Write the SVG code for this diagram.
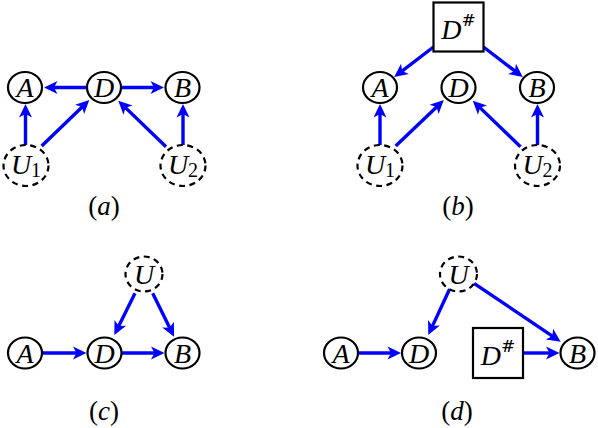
<svg xmlns="http://www.w3.org/2000/svg" width="598" height="428" viewBox="0 0 598 428">
<style>
.n{fill:#fff;stroke:#000;stroke-width:2.2}
.u{fill:#fff;stroke:#000;stroke-width:2.2;stroke-dasharray:6 4.5}
.e{fill:none;stroke:#00f;stroke-width:3.4}
.t{font-family:"Liberation Serif",serif;font-size:28px;font-style:italic;text-anchor:middle;dominant-baseline:central}
.s{font-style:normal;font-size:20px}
.h{font-family:"DejaVu Serif",serif;font-style:normal;font-size:17px}
.c{font-family:"Liberation Serif",serif;font-size:27px;text-anchor:middle;dominant-baseline:central}
.c tspan{font-style:italic}
</style>
<defs>
<marker id="ah" markerWidth="16" markerHeight="16" refX="7" refY="0" orient="auto" markerUnits="userSpaceOnUse" overflow="visible">
<path d="M13,0 L-0.5,-6.5 L3,0 L-0.5,6.5 Z" fill="#00f"/>
</marker>
</defs>
<g id="edges">
<path class="e" marker-end="url(#ah)" d="M87,87.5 L50,87.5"/>
<path class="e" marker-end="url(#ah)" d="M121,87.5 L158,87.5"/>
<path class="e" marker-end="url(#ah)" d="M25.5,145 L25.5,110"/>
<path class="e" marker-end="url(#ah)" d="M183,145 L183,110"/>
<path class="e" marker-end="url(#ah)" d="M41.7,146 L85,104.2"/>
<path class="e" marker-end="url(#ah)" d="M166,146.7 L122.6,104.9"/>
<path class="e" marker-end="url(#ah)" d="M433.5,47 L399,73.4"/>
<path class="e" marker-end="url(#ah)" d="M483.5,47 L518,73.4"/>
<path class="e" marker-end="url(#ah)" d="M380,145 L380,110"/>
<path class="e" marker-end="url(#ah)" d="M537.5,145 L537.5,110"/>
<path class="e" marker-end="url(#ah)" d="M395.7,146 L439.5,104.2"/>
<path class="e" marker-end="url(#ah)" d="M520.5,146.7 L477.1,104.9"/>
<path class="e" marker-end="url(#ah)" d="M42,353 L80.5,353"/>
<path class="e" marker-end="url(#ah)" d="M121.5,353 L158.5,353"/>
<path class="e" marker-end="url(#ah)" d="M135,293.3 L117,329.6"/>
<path class="e" marker-end="url(#ah)" d="M152.7,293.3 L171.4,331.3"/>
<path class="e" marker-end="url(#ah)" d="M358,353 L395,353"/>
<path class="e" marker-end="url(#ah)" d="M523,353 L553.5,353"/>
<path class="e" marker-end="url(#ah)" d="M450,288.3 L430.8,329.6"/>
<path class="e" marker-end="url(#ah)" d="M474,283.3 L555.7,338.3"/>
</g>
<g id="a-A"><ellipse class="n" cx="25" cy="87.5" rx="17" ry="15.5"/><text class="t" x="25" y="87.5">A</text></g>
<g id="a-D"><ellipse class="n" cx="104" cy="87.5" rx="17" ry="15.5"/><text class="t" x="104" y="87.5">D</text></g>
<g id="a-B"><ellipse class="n" cx="182.5" cy="87.5" rx="17" ry="15.5"/><text class="t" x="182.5" y="87.5">B</text></g>
<g id="a-U1"><ellipse class="u" cx="26" cy="165.5" rx="22.5" ry="20.5"/><text class="t" x="26" y="164">U<tspan class="s" dy="6">1</tspan></text></g>
<g id="a-U2"><ellipse class="u" cx="183" cy="165.5" rx="22.5" ry="20.5"/><text class="t" x="183" y="164">U<tspan class="s" dy="6">2</tspan></text></g>
<text class="c" x="104" y="206">(<tspan>a</tspan>)</text>
<g id="b-Dsharp"><rect class="n" x="433.5" y="2.5" width="50" height="49"/><text class="t" x="458.5" y="29">D<tspan class="h" dy="-9">#</tspan></text></g>
<g id="b-A"><ellipse class="n" cx="380" cy="87.5" rx="17" ry="15.5"/><text class="t" x="380" y="87.5">A</text></g>
<g id="b-D"><ellipse class="n" cx="458.5" cy="87.5" rx="17" ry="15.5"/><text class="t" x="458.5" y="87.5">D</text></g>
<g id="b-B"><ellipse class="n" cx="537" cy="87.5" rx="17" ry="15.5"/><text class="t" x="537" y="87.5">B</text></g>
<g id="b-U1"><ellipse class="u" cx="380" cy="165.5" rx="22.5" ry="20.5"/><text class="t" x="380" y="164">U<tspan class="s" dy="6">1</tspan></text></g>
<g id="b-U2"><ellipse class="u" cx="537.5" cy="165.5" rx="22.5" ry="20.5"/><text class="t" x="537.5" y="164">U<tspan class="s" dy="6">2</tspan></text></g>
<text class="c" x="458" y="206">(<tspan>b</tspan>)</text>
<g id="c-U"><ellipse class="u" cx="144" cy="274" rx="18.5" ry="17.5"/><text class="t" x="144" y="274">U</text></g>
<g id="c-A"><ellipse class="n" cx="25" cy="353" rx="17" ry="15.5"/><text class="t" x="25" y="353">A</text></g>
<g id="c-D"><ellipse class="n" cx="104.5" cy="353" rx="17" ry="15.5"/><text class="t" x="104.5" y="353">D</text></g>
<g id="c-B"><ellipse class="n" cx="182.5" cy="353" rx="17" ry="15.5"/><text class="t" x="182.5" y="353">B</text></g>
<text class="c" x="104" y="411">(<tspan>c</tspan>)</text>
<g id="d-U"><ellipse class="u" cx="458.5" cy="274" rx="18.5" ry="17.5"/><text class="t" x="458.5" y="274">U</text></g>
<g id="d-A"><ellipse class="n" cx="341" cy="353" rx="17" ry="15.5"/><text class="t" x="341" y="353">A</text></g>
<g id="d-D"><ellipse class="n" cx="419" cy="353" rx="17" ry="15.5"/><text class="t" x="419" y="353">D</text></g>
<g id="d-Dsharp"><rect class="n" x="473" y="328" width="50" height="50"/><text class="t" x="498" y="355">D<tspan class="h" dy="-9">#</tspan></text></g>
<g id="d-B"><ellipse class="n" cx="577.5" cy="353" rx="17" ry="15.5"/><text class="t" x="577.5" y="353">B</text></g>
<text class="c" x="457" y="411">(<tspan>d</tspan>)</text>
</svg>
